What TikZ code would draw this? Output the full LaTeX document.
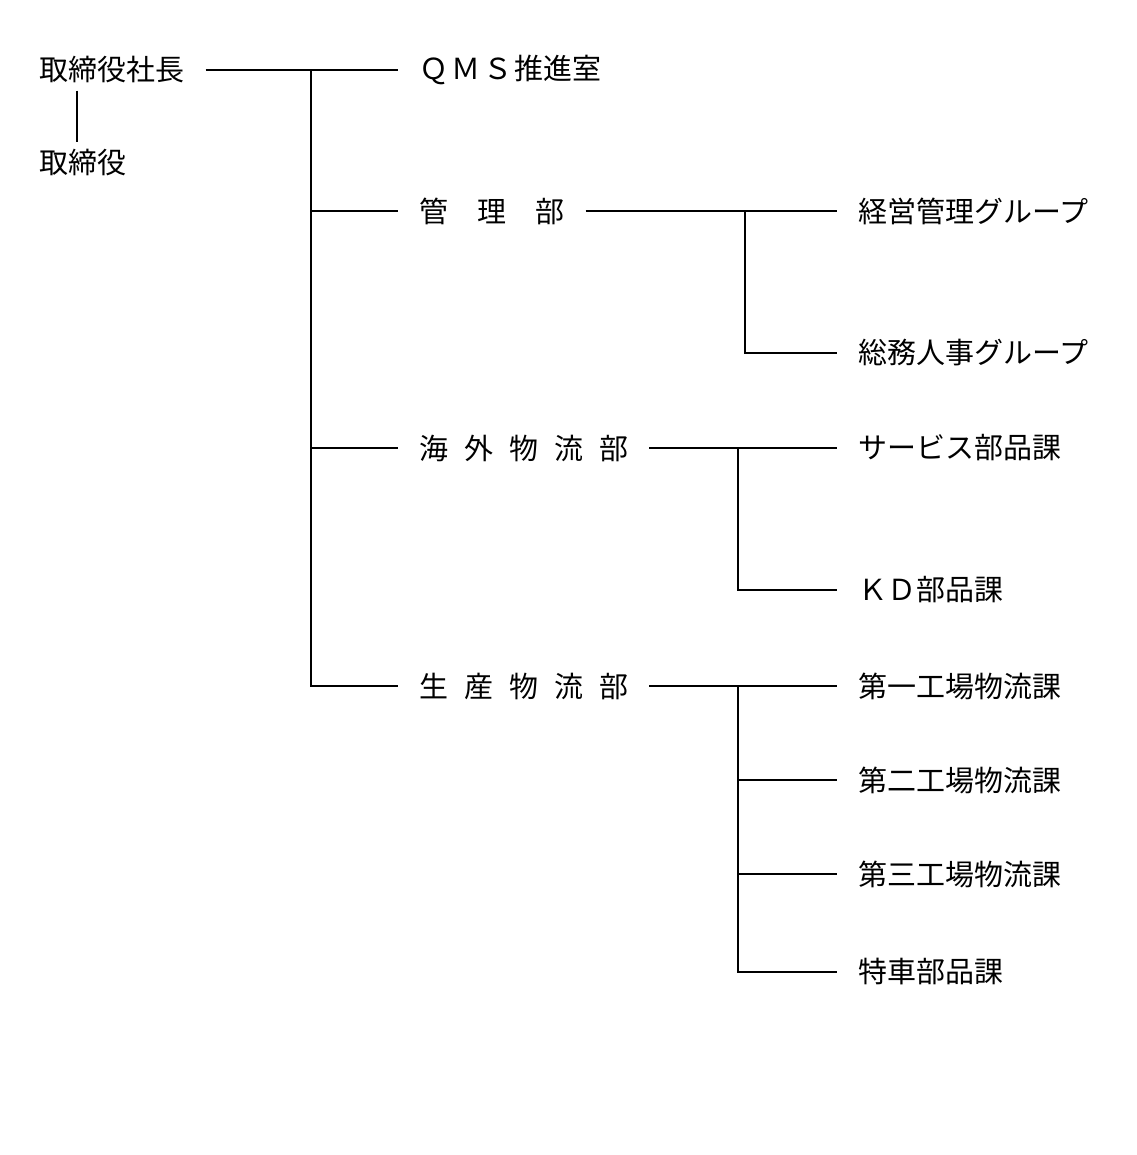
\documentclass[tikz,border=0pt]{standalone}
\usepackage{fontspec}
\setmainfont{Noto Sans CJK JP}
\usetikzlibrary{positioning,calc}

\begin{document}
\begin{tikzpicture}[
    x=0.02cm, y=-0.02cm,
    line width=1.5pt,
    unit/.style={anchor=west, inner xsep=0.4cm, inner ysep=0.12cm, font=\fontsize{16.5}{19}\selectfont}
]
    \useasboundingbox (0,0) rectangle (1136,1155);
    % Define nodes
    \node[unit] (pres) at (18,70) {取締役社長};
    \node[unit] (dir) at (18,163) {取締役};
    \node[unit] (qms) at (398,70) {Ｑ\hspace{0.1em}Ｍ\hspace{0.1em}Ｓ\hspace{0.1em}推進室};
    \node[unit] (kanri) at (398,211) {管　理　部};
    \node[unit] (kaigai) at (398,448) {海\hspace{0.55em}外\hspace{0.55em}物\hspace{0.55em}流\hspace{0.55em}部};
    \node[unit] (seisan) at (398,686) {生\hspace{0.55em}産\hspace{0.55em}物\hspace{0.55em}流\hspace{0.55em}部};
    \node[unit] (keiei) at (837,211) {経営管理グループ};
    \node[unit] (somu) at (837,353) {総務人事グループ};
    \node[unit] (service) at (837,448) {サービス部品課};
    \node[unit] (kd) at (837,590) {ＫＤ部品課};
    \node[unit] (dai1) at (837,686) {第一工場物流課};
    \node[unit] (dai2) at (837,780) {第二工場物流課};
    \node[unit] (dai3) at (837,874) {第三工場物流課};
    \node[unit] (tokusha) at (837,972) {特車部品課};

    % Junctions
    \coordinate (trunk) at (311,70);
    \coordinate (kanrij) at (745,211);
    \coordinate (kaigaij) at (738,448);
    \coordinate (seisanj) at (738,686);

    % Connectors
    \draw (77,0 |- pres.south) -- (77,0 |- dir.north);
    \draw (pres.east) -- (qms.west);
    \draw (trunk) |- (seisan.west);
    \draw (trunk |- kanri.west) -- (kanri.west);
    \draw (trunk |- kaigai.west) -- (kaigai.west);
    \draw (kanri.east) -- (keiei.west);
    \draw (kanrij) |- (somu.west);
    \draw (kaigai.east) -- (service.west);
    \draw (kaigaij) |- (kd.west);
    \draw (seisan.east) -- (dai1.west);
    \draw (seisanj) |- (tokusha.west);
    \draw (seisanj |- dai2.west) -- (dai2.west);
    \draw (seisanj |- dai3.west) -- (dai3.west);
\end{tikzpicture}
\end{document}
